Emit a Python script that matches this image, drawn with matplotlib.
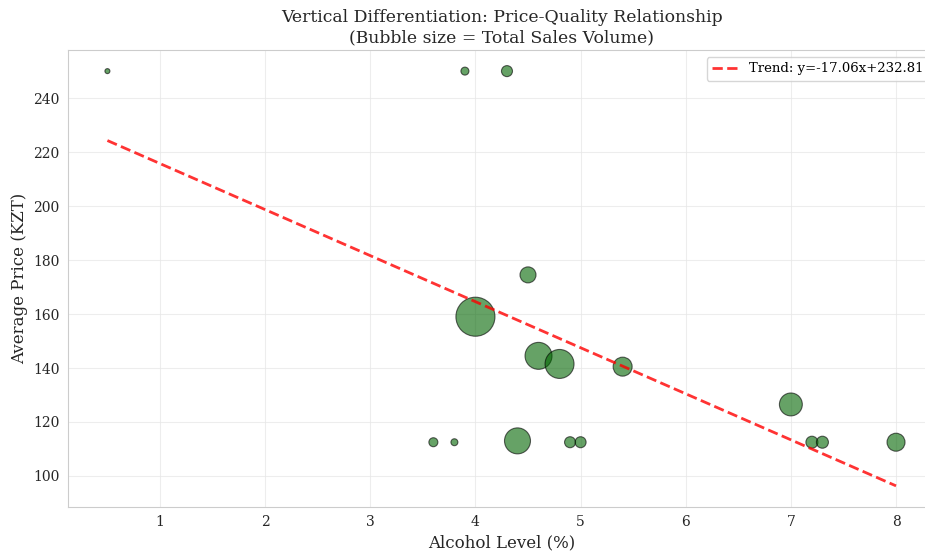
import matplotlib
matplotlib.use("Agg")
import matplotlib.pyplot as plt
import numpy as np

alcohol = [0.5, 3.9, 4.3, 4.5, 4.0, 4.6, 4.8, 5.4, 7.0, 3.6, 3.8, 4.4, 4.9, 5.0, 7.2, 7.3, 8.0]
avg_price = [250, 250, 250, 174.5, 159, 144.5, 141.5, 140.5, 126.5, 112.5, 112.5, 113, 112.5, 112.5, 112.5, 112.5, 112.5]
sales_volume = [13, 33, 63, 133, 790, 377, 435, 187, 272, 42, 25, 350, 63, 63, 75, 75, 168]
trend_slope = -17.06
trend_intercept = 232.81

plt.rcParams['font.family'] = ['DejaVu Serif']

fig = plt.figure(figsize=(9.25, 5.53), dpi=100)
ax = fig.add_axes([0.0735, 0.0839, 0.9378, 0.825])

ax.scatter(alcohol, avg_price, s=sales_volume, color='darkgreen', alpha=0.6,
           edgecolors='black', linewidths=0.8, zorder=3)

xs = np.array([min(alcohol), max(alcohol)])
ax.plot(xs, trend_slope * xs + trend_intercept, '--', color='red', alpha=0.8, linewidth=2,
        label=f'Trend: y={trend_slope:.2f}x+{trend_intercept:.2f}', zorder=4)

ax.grid(True, color='#e6e6e6', linewidth=0.8, alpha=0.7)
ax.set_axisbelow(True)
for sp in ax.spines.values():
    sp.set_color('#cccccc')
ax.tick_params(axis='both', length=0, labelsize=10, colors='#262626', pad=6)

ax.set_xlabel('Alcohol Level (%)', fontsize=12, color='#262626')
ax.set_ylabel('Average Price (KZT)', fontsize=12, color='#262626')
ax.set_title('Vertical Differentiation: Price-Quality Relationship\n(Bubble size = Total Sales Volume)',
             fontsize=12.4, color='#262626')
ax.legend(loc='upper right', fontsize=9.5, frameon=True)

fig.savefig('out.png', dpi=100)
